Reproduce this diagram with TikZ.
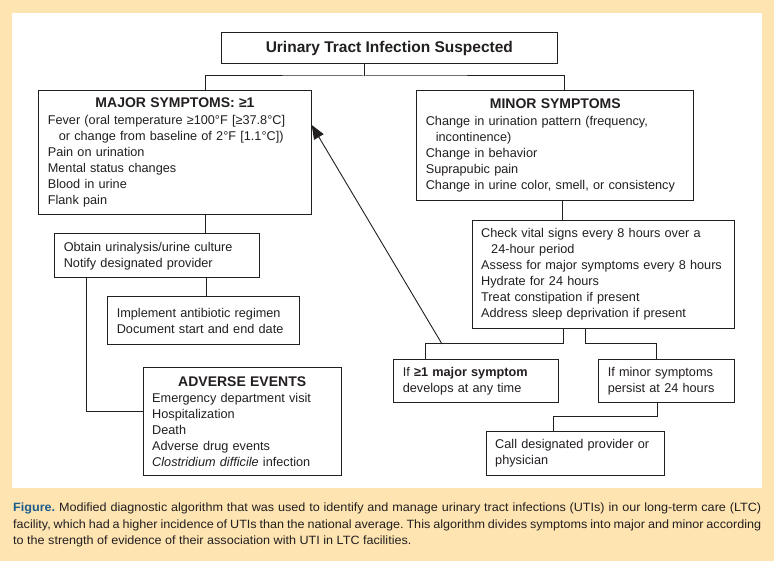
\documentclass[tikz,border=0pt]{standalone}
\usepackage{fontspec}
\setmainfont{Liberation Sans}
\newfontfamily\capfont[FakeStretch=1.05]{Liberation Sans}
\usepackage{tikz}
\usetikzlibrary{arrows.meta}

\definecolor{cream}{HTML}{FDE4B1}
\definecolor{figblue}{HTML}{1C5C8C}
\definecolor{ink}{HTML}{231F20}

\frenchspacing

\begin{document}
\begin{tikzpicture}
    [
    x=1pt, y=-1pt,
    box/.style={draw=ink,line width=1pt,rectangle,anchor=north west,inner xsep=9pt,inner ysep=0pt,align=left,text=ink,font=\fontsize{12.7}{16}\selectfont},
    head/.style={draw=ink,line width=1pt,rectangle,anchor=north west,inner sep=0pt,align=center,text=ink,font=\bfseries\fontsize{15.5}{18}\selectfont},
    link/.style={draw=ink,line width=1pt}
    ]
    % page and panel
    \fill[cream] (0,0) rectangle (774,561);
    \fill[white] (12,13) rectangle (762,488);

    % boxes
    \node[head,minimum width=335.7pt,minimum height=31.6pt] (title) at (221,31.7) {Urinary Tract Infection Suspected};
    \node[box,minimum width=272.4pt,minimum height=123.7pt,text width=254.4pt] (major) at (38.3,90.3)
      {{\centering\bfseries\fontsize{14}{16}\selectfont MAJOR SYMPTOMS: ≥1\par}\vspace{1pt}
       Fever (oral temperature ≥100°F [≥37.8°C]\\
       \hspace*{11pt}or change from baseline of 2°F [1.1°C])\\
       Pain on urination\\
       Mental status changes\\
       Blood in urine\\
       Flank pain};
    \node[box,minimum width=277pt,minimum height=109.7pt,text width=259pt] (minor) at (416.3,90.3)
      {{\centering\bfseries\fontsize{14}{16}\selectfont MINOR SYMPTOMS\par}\vspace{1pt}
       Change in urination pattern (frequency,\\
       \hspace*{10pt}incontinence)\\
       Change in behavior\\
       Suprapubic pain\\
       Change in urine color, smell, or consistency};
    \node[box,minimum width=205pt,minimum height=44pt,text width=187pt] (obtain) at (54.3,233.3)
      {Obtain urinalysis/urine culture\\
       Notify designated provider};
    \node[box,minimum width=192pt,minimum height=48pt,text width=174pt] (regimen) at (107.3,296.3)
      {Implement antibiotic regimen\\
       Document start and end date};
    \node[box,minimum width=198pt,minimum height=108pt,text width=180pt] (adverse) at (142.7,367.3)
      {{\centering\bfseries\fontsize{14}{16}\selectfont ADVERSE EVENTS\par}
       Emergency department visit\\
       Hospitalization\\
       Death\\
       Adverse drug events\\
       \textit{Clostridium difficile} infection};
    \node[box,minimum width=262.6pt,minimum height=108.3pt,text width=244.6pt] (vitals) at (471.7,220)
      {Check vital signs every 8 hours over a\\
       \hspace*{10pt}24-hour period\\
       Assess for major symptoms every 8 hours\\
       Hydrate for 24 hours\\
       Treat constipation if present\\
       Address sleep deprivation if present};
    \node[box,minimum width=165pt,minimum height=42.4pt,text width=147pt] (ifmajor) at (393.3,359.3)
      {If \textbf{≥1 major symptom}\\
       develops at any time};
    \node[box,minimum width=136pt,minimum height=42.4pt,text width=118pt] (ifminor) at (598.3,359.3)
      {If minor symptoms\\
       persist at 24 hours};
    \node[box,minimum width=178pt,minimum height=44.3pt,text width=160pt] (provider) at (485.7,431)
      {Call designated provider or\\
       physician};

    % connectors
    \coordinate (split) at (364,76);
    \coordinate (back) at (442,344);
    \draw[link] (title.south -| split) -- (split);
    \draw[link] (major.north -| 205,0) |- (split) -| (minor.north -| 564,0);
    \draw[link] (major.south -| 205.5,0) -- (obtain.north -| 205.5,0);
    \draw[link] (obtain.south -| 206.3,0) -- (regimen.north -| 206.3,0);
    \draw[link] (obtain.south -| 86.7,0) |- (adverse.west |- 0,411.3);
    \draw[link] (minor.south -| 562.7,0) -- (vitals.north -| 562.7,0);
    \draw[link] (vitals.south -| 563.3,0) |- (425.7,344) -- (ifmajor.north -| 425.7,0);
    \draw[link] (vitals.south -| 585.3,0) |- (656.7,344) -- (ifminor.north -| 656.7,0);
    \draw[link] (ifminor.south -| 657.3,0) |- (553.3,416.7) -- (provider.north -| 553.3,0);
    \draw[link,line width=0.9pt,-{Triangle[length=14pt,width=11pt]}] (back) -- (major.east |- 0,125);

    % caption
    \node[anchor=north west,inner sep=0pt,text width=748pt,align=justify,text=ink,font=\capfont\fontsize{12}{16.5}\selectfont] (caption) at (13,503)
      {\textcolor{figblue}{\textbf{Figure.}} Modified diagnostic algorithm that was used to identify and manage urinary tract infections (UTIs) in our long-term care (LTC)\linebreak
       facility, which had a higher incidence of UTIs than the national average. This algorithm divides symptoms into major and minor according\linebreak
       to the strength of evidence of their association with UTI in LTC facilities.};
\end{tikzpicture}
\end{document}
